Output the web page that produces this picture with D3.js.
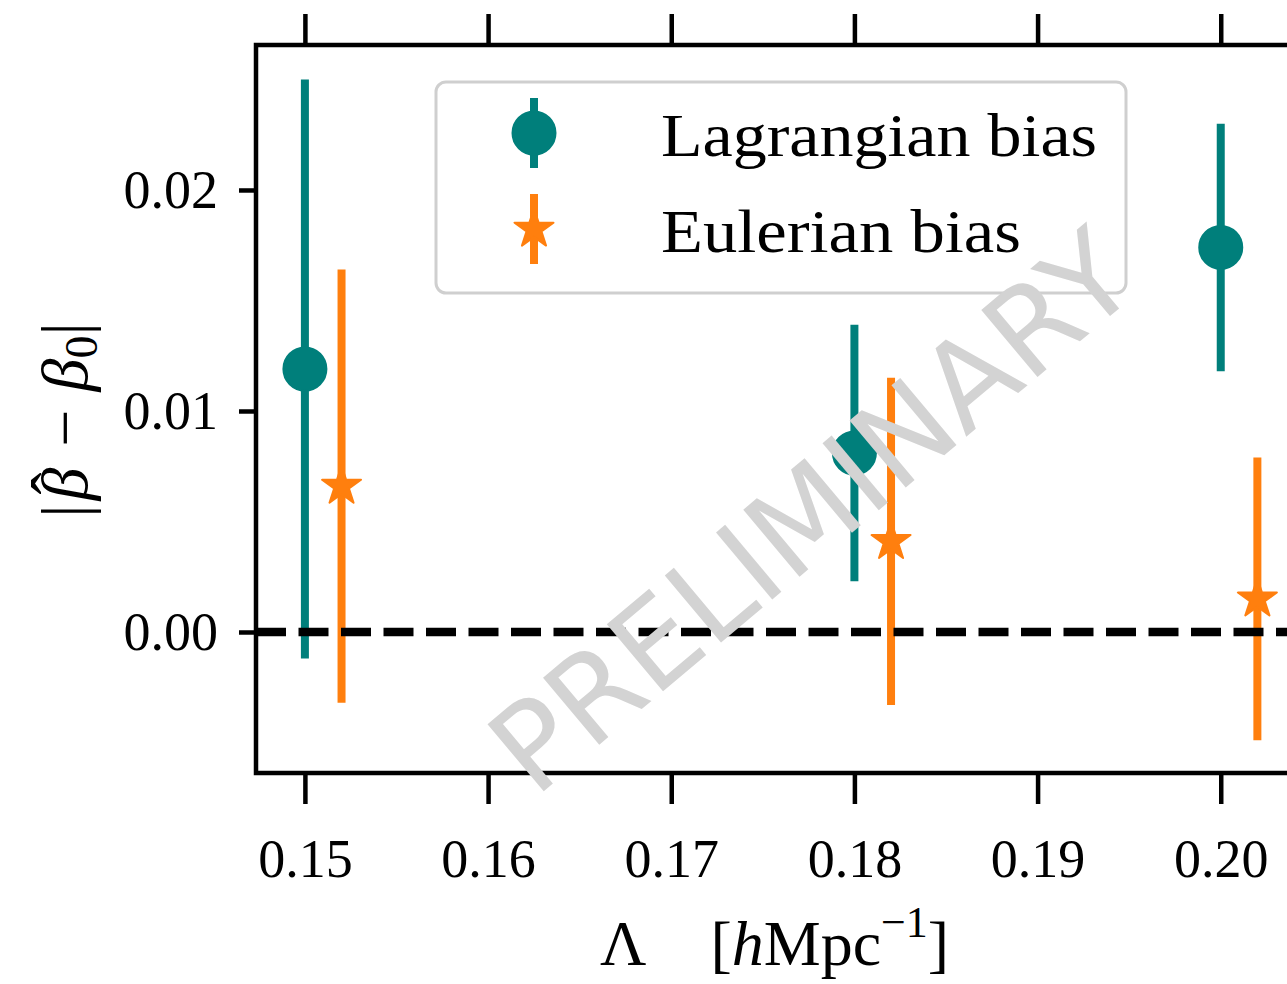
<!DOCTYPE html>
<html>
<head>
<meta charset="utf-8">
<script src="https://cdn.jsdelivr.net/npm/d3@7"></script>
<style>
  body { margin: 0; background: #fff; }
  svg { display: block; }
  text { font-family: "Liberation Serif", "DejaVu Serif", serif; }
</style>
</head>
<body>
<div id="chart"></div>
<script>
// cutoff values (x) and bias offsets with 1-sigma errors
const lambdaLag = [0.15, 0.18, 0.20];
const lagBias = [0.0119, 0.0081, 0.0174];
const lagErr = [0.0131, 0.0058, 0.0056];

const lambdaEul = [0.152, 0.182, 0.202];
const eulBias = [0.0066, 0.0041, 0.0015];
const eulErr = [0.0098, 0.0074, 0.0064];

const xTicks = [0.15, 0.16, 0.17, 0.18, 0.19, 0.20];
const yTicks = [0.00, 0.01, 0.02];

const seriesNames = ["Lagrangian bias", "Eulerian bias"];
const seriesColors = ["#007f7b", "#ff7f0e"];

const width = 1287;
const height = 984;
const plot = { left: 256, right: 1305, top: 45, bottom: 773 };

const svg = d3
  .select("#chart")
  .append("svg")
  .attr("width", width)
  .attr("height", height);

svg.append("rect").attr("width", width).attr("height", height).attr("fill", "#fff");

const x = d3.scaleLinear().domain([0.14733, 0.2046]).range([plot.left, plot.right]);
const y = d3.scaleLinear().domain([-0.00638, 0.02656]).range([plot.bottom, plot.top]);

// axes: ticks only, spines drawn separately
const xAxisBottom = d3.axisBottom(x).tickValues(xTicks).tickSize(31).tickPadding(35).tickFormat(d3.format(".2f"));
const xAxisTop = d3.axisTop(x).tickValues(xTicks).tickSize(31).tickFormat("");
const yAxis = d3.axisLeft(y).tickValues(yTicks).tickSize(17).tickPadding(21).tickFormat(d3.format(".2f"));

function styleAxis(g) {
  g.select(".domain").remove();
  g.selectAll(".tick line").attr("stroke", "#000").attr("stroke-width", 4.5);
  g.selectAll(".tick text")
    .attr("fill", "#000")
    .style("font-family", "'Liberation Serif', serif")
    .style("font-size", "54px");
}

svg.append("g").attr("transform", `translate(0,${plot.bottom})`).call(xAxisBottom).call(styleAxis);
svg.append("g").attr("transform", `translate(0,${plot.top})`).call(xAxisTop).call(styleAxis);
svg.append("g").attr("transform", `translate(${plot.left},0)`).call(yAxis).call(styleAxis);

// spines
svg.append("rect")
  .attr("x", plot.left)
  .attr("y", plot.top)
  .attr("width", plot.right - plot.left)
  .attr("height", plot.bottom - plot.top)
  .attr("fill", "none")
  .attr("stroke", "#000")
  .attr("stroke-width", 4.5);

const lagData = lambdaLag.map((l, i) => ({ x: l, y: lagBias[i], e: lagErr[i] }));
const eulData = lambdaEul.map((l, i) => ({ x: l, y: eulBias[i], e: eulErr[i] }));

const circle = d3.symbol(d3.symbolCircle, Math.PI * 21.5 * 21.5);
const star = d3.symbol(d3.symbolStar, (20.5 * 20.5) / 0.8908130915292852);

function drawSeries(data, color, shape) {
  const g = svg.append("g");
  g.selectAll("line")
    .data(data)
    .enter()
    .append("line")
    .attr("x1", d => x(d.x))
    .attr("x2", d => x(d.x))
    .attr("y1", d => y(d.y - d.e))
    .attr("y2", d => y(d.y + d.e))
    .attr("stroke", color)
    .attr("stroke-width", 8);
  g.selectAll("path")
    .data(data)
    .enter()
    .append("path")
    .attr("d", shape)
    .attr("transform", d => `translate(${x(d.x)},${y(d.y)})`)
    .attr("fill", color)
    .attr("stroke", color)
    .attr("stroke-width", 2)
    .attr("stroke-linejoin", "round");
}

drawSeries(lagData, seriesColors[0], circle);
drawSeries(eulData, seriesColors[1], star);

// zero line
svg.append("line")
  .attr("x1", plot.left)
  .attr("x2", plot.right)
  .attr("y1", y(0))
  .attr("y2", y(0))
  .attr("stroke", "#000")
  .attr("stroke-width", 8.5)
  .attr("stroke-dasharray", "30,12.5");

// legend
const legend = svg.append("g");
legend.append("rect")
  .attr("x", 436)
  .attr("y", 82)
  .attr("width", 690)
  .attr("height", 211)
  .attr("rx", 10)
  .attr("fill", "#fff")
  .attr("fill-opacity", 0.8)
  .attr("stroke", "#cfcfcf")
  .attr("stroke-width", 3);

const legendRows = [
  { name: seriesNames[0], color: seriesColors[0], shape: circle, cy: 133, len: 436 },
  { name: seriesNames[1], color: seriesColors[1], shape: star, cy: 229, len: 360 }
];

legendRows.forEach(r => {
  legend.append("line")
    .attr("x1", 534).attr("x2", 534)
    .attr("y1", r.cy - 35).attr("y2", r.cy + 35)
    .attr("stroke", r.color)
    .attr("stroke-width", 8);
  legend.append("path")
    .attr("d", r.shape)
    .attr("transform", `translate(534,${r.cy})`)
    .attr("fill", r.color)
    .attr("stroke", r.color)
    .attr("stroke-width", 2)
    .attr("stroke-linejoin", "round");
  legend.append("text")
    .attr("x", 661)
    .attr("y", r.cy + 23)
    .attr("font-size", 62)
    .attr("textLength", r.len)
    .attr("lengthAdjust", "spacingAndGlyphs")
    .attr("fill", "#000")
    .text(r.name);
});

// axis labels
const yLabel = svg.append("text")
  .attr("transform", "translate(87,420) rotate(-90)")
  .attr("text-anchor", "middle")
  .attr("font-size", 66)
  .attr("fill", "#000");
yLabel.append("tspan").text("|");
yLabel.append("tspan").attr("dx", 4).attr("font-style", "italic").text("\u03B2");
yLabel.append("tspan").attr("dx", -27).attr("dy", -10).text("\u02C6");
yLabel.append("tspan").attr("dx", 26).attr("dy", 10).text("\u2212");
yLabel.append("tspan").attr("dx", 18).attr("font-style", "italic").text("\u03B2");
yLabel.append("tspan").attr("font-size", 46).attr("dy", 10).text("0");
yLabel.append("tspan").attr("dy", -10).text("|");

const xLabel = svg.append("text")
  .attr("x", 600)
  .attr("y", 965)
  .attr("font-size", 64)
  .attr("fill", "#000");
xLabel.append("tspan").text("\u039B");
xLabel.append("tspan").attr("dx", 64).text("[");
xLabel.append("tspan").attr("font-style", "italic").text("h");
xLabel.append("tspan").text("Mpc");
xLabel.append("tspan").attr("font-size", 44).attr("dy", -28).text("\u22121");
xLabel.append("tspan").attr("dy", 28).text("]");

// watermark
svg.append("text")
  .attr("transform", "translate(812,512) rotate(-40)")
  .attr("text-anchor", "middle")
  .attr("dominant-baseline", "central")
  .style("font-family", "'DejaVu Sans', sans-serif")
  .attr("font-size", 120)
  .attr("fill", "#d3d3d3")
  .text("PRELIMINARY");
</script>
</body>
</html>
